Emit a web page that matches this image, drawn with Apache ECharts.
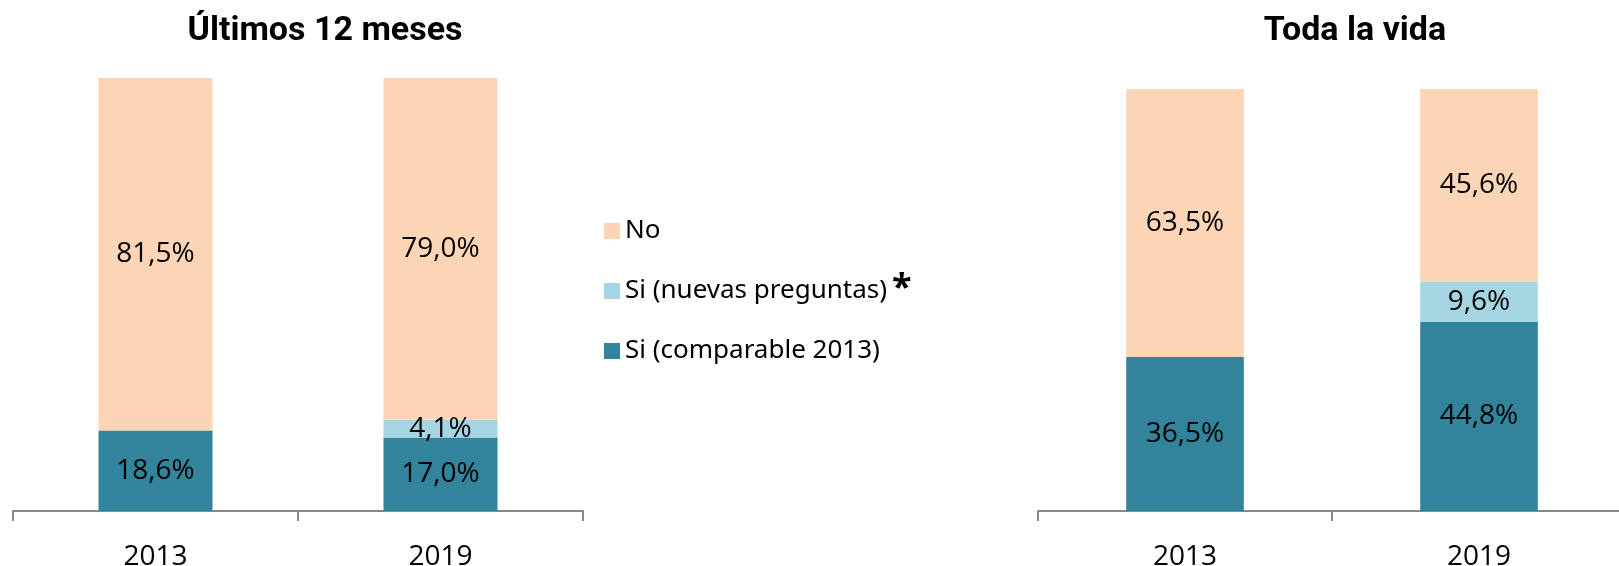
<!DOCTYPE html>
<html>
<head>
<meta charset="utf-8">
<script src="https://cdn.jsdelivr.net/npm/echarts@6/dist/echarts.min.js"></script>
<style>
  html, body { margin: 0; padding: 0; background: #fff; }
  #chart { width: 1619px; height: 566px; }
</style>
</head>
<body>
<div id="chart"></div>
<script>
  // datos
  var years = ['2013', '2019'];
  var seriesNames = ['No', 'Si (nuevas preguntas)', 'Si (comparable 2013)'];

  // Últimos 12 meses
  var noLast12 = [81.5, 79.0];
  var newLast12 = ['-', 4.1];
  var compLast12 = [18.6, 17.0];

  // Toda la vida
  var noLife = [63.5, 45.6];
  var newLife = ['-', 9.6];
  var compLife = [36.5, 44.8];

  var colors = ['#FBD5B5', '#A5D5E2', '#31849B'];
  var labelFont = 'Open Sans';
  var titleFont = 'Roboto';

  function pct(p) {
    return p.value.toFixed(1).replace('.', ',') + '%';
  }

  function bar(name, data, idx, stack, color) {
    return {
      type: 'bar',
      name: name,
      stack: stack,
      xAxisIndex: idx,
      yAxisIndex: idx,
      barWidth: '40%',
      data: data,
      itemStyle: { color: color },
      label: {
        show: true,
        position: 'inside',
        color: '#000',
        fontFamily: labelFont,
        fontSize: 28,
        formatter: pct
      },
      emphasis: { disabled: true },
      animation: false
    };
  }

  function xAx(idx) {
    return {
      type: 'category',
      gridIndex: idx,
      data: years,
      axisLine: { show: true, lineStyle: { color: '#878787', width: 2 } },
      axisTick: { show: true, length: 10, lineStyle: { color: '#878787', width: 2 } },
      axisLabel: { color: '#000', fontFamily: labelFont, fontSize: 28, margin: 32, lineHeight: 28 }
    };
  }

  function yAx(idx, max) {
    return { type: 'value', gridIndex: idx, min: 0, max: max, show: false, splitLine: { show: false } };
  }

  var chart = echarts.init(document.getElementById('chart'));

  chart.setOption({
    title: [
      {
        text: 'Últimos 12 meses', left: 325, top: 14, textAlign: 'center', padding: 0,
        textStyle: { fontFamily: titleFont, fontWeight: 'bold', fontSize: 34, color: '#000' }
      },
      {
        text: 'Toda la vida', left: 1355, top: 14, textAlign: 'center', padding: 0,
        textStyle: { fontFamily: titleFont, fontWeight: 'bold', fontSize: 34, color: '#000' }
      }
    ],
    legend: {
      orient: 'vertical',
      left: 604,
      top: 218,
      itemWidth: 16,
      itemHeight: 16,
      itemGap: 27,
      icon: 'rect',
      padding: 0,
      data: seriesNames,
      formatter: function (name) {
        if (name === 'Si (nuevas preguntas)') return '{t|' + name + '}{s|*}';
        return '{t|' + name + '}';
      },
      textStyle: {
        color: '#000',
        fontFamily: 'Noto Sans',
        fontSize: 26,
        rich: {
          t: { fontFamily: 'Noto Sans', fontSize: 26, color: '#000', lineHeight: 27 },
          s: { fontFamily: 'Noto Sans', fontSize: 36, fontWeight: 'bold', color: '#000', lineHeight: 27, padding: [0, 0, 4, 5] }
        }
      }
    },
    grid: [
      { left: 13, width: 570, top: 78, height: 433, containLabel: false, outerBoundsMode: 'none' },
      { left: 1038, width: 588, top: 89, height: 422, containLabel: false, outerBoundsMode: 'none' }
    ],
    xAxis: [xAx(0), xAx(1)],
    yAxis: [yAx(0, 100.1), yAx(1, 100)],
    series: [
      bar(seriesNames[2], compLast12, 0, 'L', colors[2]),
      bar(seriesNames[1], newLast12, 0, 'L', colors[1]),
      bar(seriesNames[0], noLast12, 0, 'L', colors[0]),
      bar(seriesNames[2], compLife, 1, 'R', colors[2]),
      bar(seriesNames[1], newLife, 1, 'R', colors[1]),
      bar(seriesNames[0], noLife, 1, 'R', colors[0])
    ]
  });

  window.addEventListener('resize', function () {
    chart.resize();
  });
</script>
</body>
</html>
